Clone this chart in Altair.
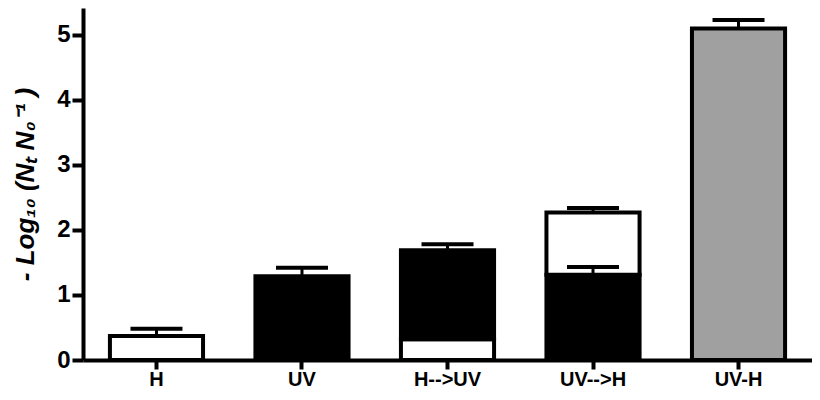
import altair as alt
import pandas as pd

categories = ["H", "UV", "H-->UV", "UV-->H", "UV-H"]

# bar segments (category, lower, upper, fill)
seg_cat = ["H", "UV", "H-->UV", "H-->UV", "UV-->H", "UV-->H", "UV-H"]
seg_low = [0, 0, 0, 0.32, 0, 1.31, 0]
seg_high = [0.37, 1.29, 0.32, 1.69, 1.31, 2.27, 5.1]
seg_fill = ["white", "black", "white", "black", "black", "white", "#a0a0a0"]

# error bars (category, bar top, error top)
err_cat = ["H", "UV", "H-->UV", "UV-->H", "UV-->H", "UV-H"]
err_base = [0.37, 1.29, 1.69, 1.31, 2.27, 5.1]
err_top = [0.48, 1.42, 1.78, 1.43, 2.34, 5.23]

segs = pd.DataFrame({"cat": seg_cat, "lo": seg_low, "hi": seg_high, "fill": seg_fill})
errs = pd.DataFrame({"cat": err_cat, "base": err_base, "top": err_top})

FONT = "Liberation Sans"
xscale = alt.Scale(domain=categories, paddingInner=0.36, paddingOuter=0.185)
yscale = alt.Scale(domain=[0, 5.415], nice=False)

x_enc = alt.X("cat:N", sort=categories, scale=xscale,
              axis=alt.Axis(title=None, labelAngle=0, labelFont=FONT, labelFontSize=20,
                            labelFontWeight="bold", labelColor="black", tickSize=9,
                            labelPadding=0, domainWidth=4, tickWidth=4,
                            domainColor="black", tickColor="black"))

bars = alt.Chart(segs).mark_bar(stroke="black", strokeWidth=4).encode(
    x=x_enc,
    y=alt.Y("lo:Q", scale=yscale,
            axis=alt.Axis(values=[0, 1, 2, 3, 4, 5], format="d",
                          title="- Log₁₀ (Nₜ N₀⁻¹ )",
                          titleFont=FONT, titleFontSize=26, titleFontWeight="bold",
                          titleFontStyle="italic", titleColor="black", titlePadding=18,
                          labelFont=FONT, labelFontSize=24, labelFontWeight="bold",
                          labelColor="black", tickSize=11, labelPadding=2,
                          domainWidth=4, tickWidth=4, domainColor="black",
                          tickColor="black", grid=False)),
    y2="hi:Q",
    fill=alt.Fill("fill:N", scale=None),
)

stems = alt.Chart(errs).mark_rule(color="black", strokeWidth=3).encode(
    x=alt.X("cat:N", sort=categories, scale=xscale),
    y=alt.Y("base:Q", scale=yscale),
    y2="top:Q",
)

caps = alt.Chart(errs).mark_tick(color="black", size=52, thickness=4, opacity=1).encode(
    x=alt.X("cat:N", sort=categories, scale=xscale),
    y=alt.Y("top:Q", scale=yscale),
)

chart = alt.layer(bars, stems, caps).properties(
    width=729, height=352,
    padding={"left": 75, "top": 0, "right": 0, "bottom": 32},
    autosize=alt.AutoSizeParams(type="none"),
    background="white",
).configure_view(stroke=None)

chart.save("out.html", embed_options={"renderer": "svg", "actions": False})
